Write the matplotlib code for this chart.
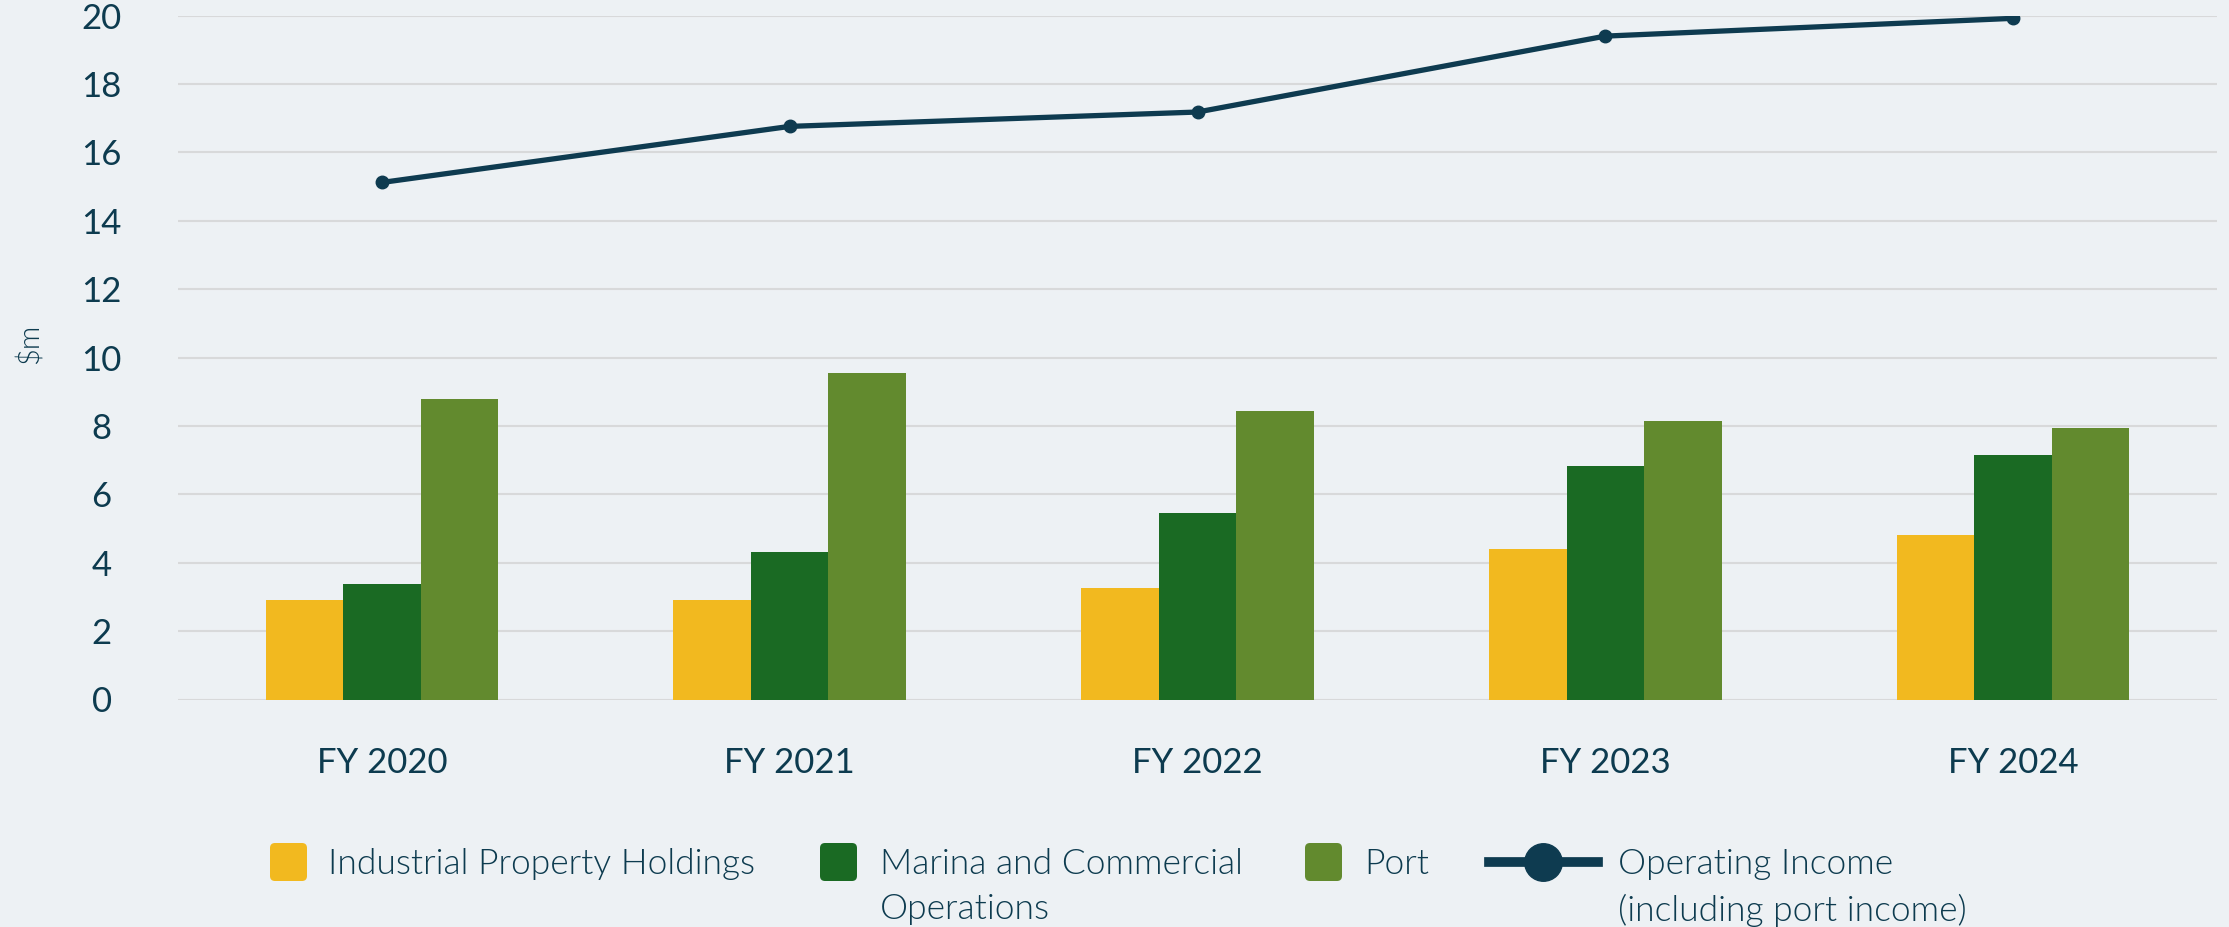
import matplotlib.pyplot as plt
from matplotlib.patches import FancyBboxPatch
from matplotlib.lines import Line2D
import numpy as np

years = ["FY 2020", "FY 2021", "FY 2022", "FY 2023", "FY 2024"]
industrial = [2.91, 2.92, 3.27, 4.41, 4.82]
marina = [3.38, 4.30, 5.44, 6.82, 7.14]
port = [8.80, 9.54, 8.43, 8.13, 7.94]
operating = [15.12, 16.76, 17.18, 19.40, 19.92]

series_names = ["Industrial Property Holdings", "Marina and Commercial\nOperations", "Port"]
line_name = "Operating Income\n(including port income)"

bg = "#edf1f4"
text_col = "#0d3b4f"
colors = ["#f2b91f", "#1a6a23", "#628a2e"]
line_col = "#0e3b50"

fig = plt.figure(figsize=(22.29, 9.27), dpi=100, facecolor=bg)
ax = fig.add_axes([178 / 2229, 1 - 699.5 / 927, (2217 - 178) / 2229, (699.5 - 15.6) / 927])
ax.set_facecolor(bg)

x = np.arange(len(years))
w = 0.19
for i, (vals, c) in enumerate(zip([industrial, marina, port], colors)):
    ax.bar(x + (i - 1) * w, vals, width=w, color=c, zorder=2)

ax.plot(x, operating, color=line_col, lw=3.8, marker="o", ms=9, zorder=3)

ax.set_xlim(-0.5, 4.5)
ax.set_ylim(0, 20)
ax.set_yticks(range(0, 21, 2))
ax.set_xticks(x)
ax.set_xticklabels(years)
ax.grid(axis="y", color="#d8d9da", lw=1.5, zorder=0)
for s in ax.spines.values():
    s.set_visible(False)
ax.tick_params(length=0, colors=text_col, labelsize=25)
ax.tick_params(axis="x", pad=34)
ax.tick_params(axis="y", pad=55)
for lab in ax.get_yticklabels():
    lab.set_ha("center")
for lab in ax.get_xticklabels() + ax.get_yticklabels():
    lab.set_family("Lato")

fig.text(30 / 2229, 1 - 344 / 927, "$m", rotation=90, ha="center", va="center",
         color=text_col, fontsize=21, family="Lato", fontweight=300)

# legend drawn by hand so handles sit on the first text line
tr = fig.dpi_scale_trans
leg_font = dict(color=text_col, fontsize=25.5, family="Lato", fontweight=300,
                va="top", linespacing=1.5, transform=tr)
patch_x = [2.70, 8.20, 13.05]
text_x = [3.28, 8.80, 13.64]
for px, tx, c, name in zip(patch_x, text_x, colors, series_names):
    fig.patches.append(FancyBboxPatch((px, 0.46), 0.37, 0.38,
                                      boxstyle="round,pad=0,rounding_size=0.05",
                                      fc=c, ec="none", transform=tr))
    fig.text(tx, 0.79, name, **leg_font)
fig.lines.append(Line2D([14.89, 15.98], [0.65, 0.65], color=line_col, lw=7, transform=tr))
fig.lines.append(Line2D([15.43], [0.65], color=line_col, marker="o", ms=27, lw=0, transform=tr))
fig.text(16.18, 0.79, line_name, **leg_font)

fig.savefig("out.png", dpi=100, facecolor=bg)
